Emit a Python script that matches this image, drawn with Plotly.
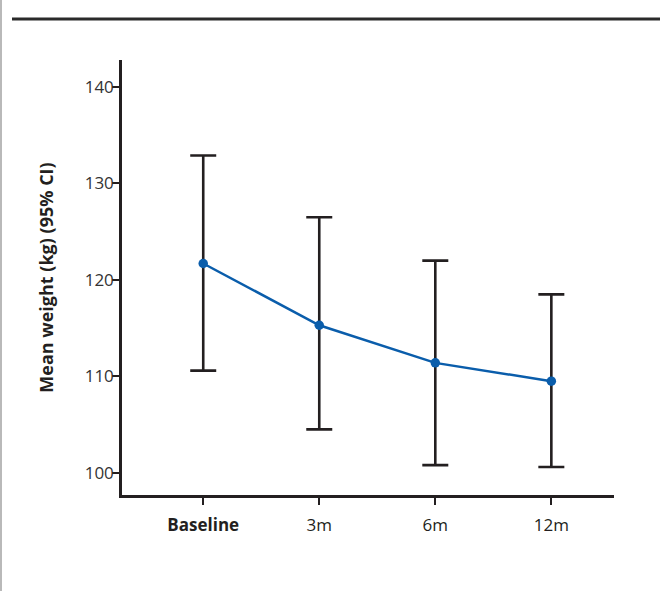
import plotly.graph_objects as go

categories = ["Baseline", "3m", "6m", "12m"]
tick_labels = ["<b>Baseline</b>", "3m", "6m", "12m"]
mean_weight = [121.7, 115.3, 111.4, 109.5]
ci_upper = [132.9, 126.5, 122.0, 118.5]
ci_lower = [110.6, 104.5, 100.8, 100.6]
y_ticks = [100, 110, 120, 130, 140]

x_pos = list(range(len(categories)))
err_plus = [u - m for u, m in zip(ci_upper, mean_weight)]
err_minus = [m - l for m, l in zip(mean_weight, ci_lower)]

DARK = "#231f20"
BLUE = "#0a5dab"
FONT = "Open Sans"

fig = go.Figure()
fig.add_trace(go.Scatter(
    x=x_pos, y=mean_weight, mode="markers",
    marker=dict(size=1, color="rgba(0,0,0,0)"),
    error_y=dict(type="data", symmetric=False, array=err_plus, arrayminus=err_minus,
                 color=DARK, thickness=2.6, width=13),
    hoverinfo="skip", showlegend=False,
))
fig.add_trace(go.Scatter(
    x=x_pos, y=mean_weight, mode="lines+markers",
    line=dict(color=BLUE, width=2.5),
    marker=dict(color=BLUE, size=9.5),
    showlegend=False,
))

W, H = 666, 591
L, R, T, B = 122, 52, 60, 96
pw, ph = W - L - R, H - T - B

def px_x(p):
    return (p - L) / pw

def px_y(p):
    return (H - B - p) / ph

shapes = [
    dict(type="line", xref="paper", yref="paper",
         x0=px_x(12), x1=px_x(660), y0=px_y(19), y1=px_y(19),
         line=dict(color="#2a2a2a", width=3)),
    dict(type="line", xref="paper", yref="paper",
         x0=px_x(1), x1=px_x(1), y0=px_y(591), y1=px_y(0),
         line=dict(color="#8a8a8a", width=1.2)),
]

fig.update_layout(
    width=W, height=H,
    margin=dict(l=L, r=R, t=T, b=B),
    paper_bgcolor="white", plot_bgcolor="white",
    font=dict(family=FONT, color=DARK, size=17),
    shapes=shapes,
    xaxis=dict(
        range=[-0.70, 3.54], tickmode="array", tickvals=x_pos, ticktext=tick_labels,
        showline=True, linecolor=DARK, linewidth=2.5, showgrid=False, zeroline=False,
        ticks="outside", ticklen=7, tickwidth=2, tickcolor=DARK,
        ticklabelstandoff=6,
        tickfont=dict(family=FONT, size=17, color=DARK),
    ),
    yaxis=dict(
        range=[97.7, 142.8], tickmode="array", tickvals=y_ticks,
        showline=True, linecolor=DARK, linewidth=2.5, showgrid=False, zeroline=False,
        ticks="outside", ticklen=7, tickwidth=2, tickcolor=DARK,
        ticklabelstandoff=-5,
        tickfont=dict(family=FONT, size=17, color="#333333"),
        title=dict(text="<b>Mean weight (kg) (95% CI)</b>", standoff=27,
                   font=dict(family=FONT, size=18, color=DARK)),
    ),
)

fig.write_html("out.html")
